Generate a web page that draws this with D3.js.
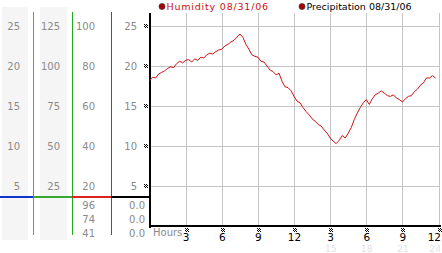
<!DOCTYPE html>
<html>
<head>
<meta charset="utf-8">
<script src="https://cdn.jsdelivr.net/npm/d3@7"></script>
<style>
  body { margin: 0; background: #fff; }
  text { font-family: "DejaVu Sans", Verdana, sans-serif; }
</style>
</head>
<body>
<div id="chart"></div>
<script>
// Humidity readings, one every 15 minutes
var humidity = [
  18.2, 18.6, 18.5, 19.0, 19.2, 19.4, 19.7, 19.9,
  19.8, 20.3, 20.6, 20.4, 20.7, 20.8, 20.5, 20.9,
  20.7, 21.1, 21.0, 21.4, 21.6, 21.5, 21.8, 22.0,
  22.1, 22.5, 22.7, 23.0, 23.2, 23.6, 24.0, 23.6,
  22.7, 22.1, 21.4, 21.2, 21.1, 20.6, 20.5, 20.0,
  19.5, 19.3, 18.9, 19.1, 18.1, 17.4, 17.3, 16.9,
  16.2, 15.6, 15.4, 14.8, 14.3, 13.9, 13.4, 13.1,
  12.7, 12.5, 12.0, 11.6, 11.0, 10.6, 10.3, 10.7,
  11.3, 11.0, 11.6, 12.3, 13.3, 14.1, 14.8, 15.4,
  15.8, 15.2, 15.9, 16.4, 16.6, 16.9, 16.6, 16.3,
  16.2, 16.4, 16.0, 15.8, 15.5, 15.9, 16.2, 16.3,
  16.8, 17.1, 17.6, 17.9, 18.5, 18.5, 18.8, 18.5
];

// Left-hand scale columns
var col1Ticks = [5, 10, 15, 20, 25];
var col2Ticks = [25, 50, 75, 100, 125];
var col3Ticks = [20, 40, 60, 80, 100];
var col4Ticks = [5, 10, 15, 20, 25];
var col3Extra = ["96", "74", "41"];
var col4Extra = ["0.0", "0.0", "0.0"];

// Bottom axis labels
var hourTicks = [3, 6, 9, 12, 15, 18, 21, 24];
var hourLabels = ["3", "6", "9", "12", "3", "6", "9", "12"];
var faintLabels = ["15", "18", "21", "24"];

var svg = d3.select("#chart").append("svg")
  .attr("width", 442)
  .attr("height", 253);

var x = d3.scaleLinear().domain([0, 24]).range([149.6, 438.5]);
var y = d3.scaleLinear().domain([0, 25]).range([226, 26]);

// gray panels behind first two columns
svg.append("rect").attr("x", 2).attr("y", 7).attr("width", 26).attr("height", 233).attr("fill", "#f5f5f5");
svg.append("rect").attr("x", 40).attr("y", 7).attr("width", 27).attr("height", 233).attr("fill", "#f5f5f5");

// column tick labels
var cols = [
  { ticks: col1Ticks, max: 25, right: 20 },
  { ticks: col2Ticks, max: 125, right: 60 },
  { ticks: col3Ticks, max: 100, right: 95 },
  { ticks: col4Ticks, max: 25, right: 137 }
];
cols.forEach(function(c) {
  var s = d3.scaleLinear().domain([0, c.max]).range([226, 26]);
  svg.selectAll(null).data(c.ticks).enter().append("text")
    .attr("x", c.right)
    .attr("y", d => s(d) + 0.5)
    .attr("dy", "0.35em")
    .attr("text-anchor", "end")
    .attr("font-size", "10px")
    .attr("fill", "#8a8a8a")
    .text(d => d);
});

svg.selectAll(null).data(col3Extra).enter().append("text")
  .attr("x", 95).attr("y", (d, i) => 205 + i * 14).attr("dy", "0.35em")
  .attr("text-anchor", "end").attr("font-size", "10px").attr("fill", "#8a8a8a")
  .text(d => d);
svg.selectAll(null).data(col4Extra).enter().append("text")
  .attr("x", 145).attr("y", (d, i) => 205 + i * 14).attr("dy", "0.35em")
  .attr("text-anchor", "end").attr("font-size", "10px").attr("fill", "#8a8a8a")
  .text(d => d);

// colored vertical separators
[[33, "#1fa6d0"], [72, "#22aa22"], [111, "#cc2222"]].forEach(function(v) {
  svg.append("rect").attr("x", v[0]).attr("y", 12).attr("width", 1).attr("height", 223)
    .attr("fill", v[1]);
});

// colored horizontal baseline
[[0, 33, "#1133cc"], [33, 72, "#33aa33"], [72, 111, "#dd2222"], [111, 150, "#000"]].forEach(function(h) {
  svg.append("rect").attr("x", h[0]).attr("y", 196).attr("width", h[1] - h[0]).attr("height", 2).attr("fill", h[2]);
});

var plot = svg.append("g").attr("shape-rendering", "crispEdges");

// gridlines
plot.selectAll(null).data(col4Ticks).enter().append("line")
  .attr("x1", 150).attr("x2", 440)
  .attr("y1", d => Math.round(y(d)) + 0.5).attr("y2", d => Math.round(y(d)) + 0.5)
  .attr("stroke", "#c4c4c4");
plot.selectAll(null).data(hourTicks).enter().append("line")
  .attr("x1", d => Math.round(x(d)) + 0.5).attr("x2", d => Math.round(x(d)) + 0.5)
  .attr("y1", 13).attr("y2", 226)
  .attr("stroke", "#c4c4c4");

// axes
plot.append("rect").attr("x", 149).attr("y", 13).attr("width", 2).attr("height", 215).attr("fill", "#000");
plot.append("rect").attr("x", 149).attr("y", 225).attr("width", 292).attr("height", 2).attr("fill", "#000");

// little dotted tick markers
function marker(cx, cy) {
  var pts = [[-2, -2], [0, -2], [-1, -1], [1, -1], [-2, 0], [0, 0], [-1, 1], [1, 1]];
  pts.forEach(function(p) {
    plot.append("rect").attr("x", cx + p[0]).attr("y", cy + p[1])
      .attr("width", 1).attr("height", 1).attr("fill", "#000");
  });
}
col4Ticks.forEach(d => marker(146, Math.round(y(d))));
hourTicks.forEach(d => marker(Math.round(x(d)) + 1, 230));

// humidity line
var line = d3.line()
  .x((d, i) => x(i / 4))
  .y(d => y(d));
svg.append("path")
  .datum(humidity)
  .attr("d", line)
  .attr("fill", "none")
  .attr("stroke", "#cc1111")
  .attr("stroke-width", 1);

// bottom labels
svg.append("text").attr("x", 153).attr("y", 232).attr("dy", "0.35em")
  .attr("font-size", "10px").attr("fill", "#8a8a8a").text("Hours");
svg.selectAll(null).data(hourTicks).enter().append("text")
  .attr("x", (d, i) => i === hourTicks.length - 1 ? 441 : x(d) + 0.5)
  .attr("y", 237.5).attr("dy", "0.35em")
  .attr("text-anchor", (d, i) => i === hourTicks.length - 1 ? "end" : "middle")
  .attr("font-size", "10.5px").attr("fill", "#000")
  .text((d, i) => hourLabels[i]);
svg.selectAll(null).data(faintLabels).enter().append("text")
  .attr("x", (d, i) => i === faintLabels.length - 1 ? 441 : x(hourTicks[i + 4]) + 0.5)
  .attr("y", 248.5).attr("dy", "0.35em")
  .attr("text-anchor", (d, i) => i === faintLabels.length - 1 ? "end" : "middle")
  .attr("font-size", "9px").attr("fill", "#e2e2e2")
  .text(d => d);

// legend
var legend = [
  { label: "Humidity 08/31/06", x: 162, color: "#cc1111", spacing: 0.8 },
  { label: "Precipitation 08/31/06", x: 302, color: "#000", spacing: 0 }
];
legend.forEach(function(l) {
  svg.append("circle").attr("cx", l.x).attr("cy", 6.5).attr("r", 3)
    .attr("fill", "#aa0000").attr("stroke", "#333").attr("stroke-width", 0.7);
  svg.append("text").attr("x", l.x + 4.5).attr("y", 6.5).attr("dy", "0.35em")
    .attr("font-size", "9.5px").attr("letter-spacing", l.spacing + "px")
    .attr("fill", l.color).text(l.label);
});
</script>
</body>
</html>
